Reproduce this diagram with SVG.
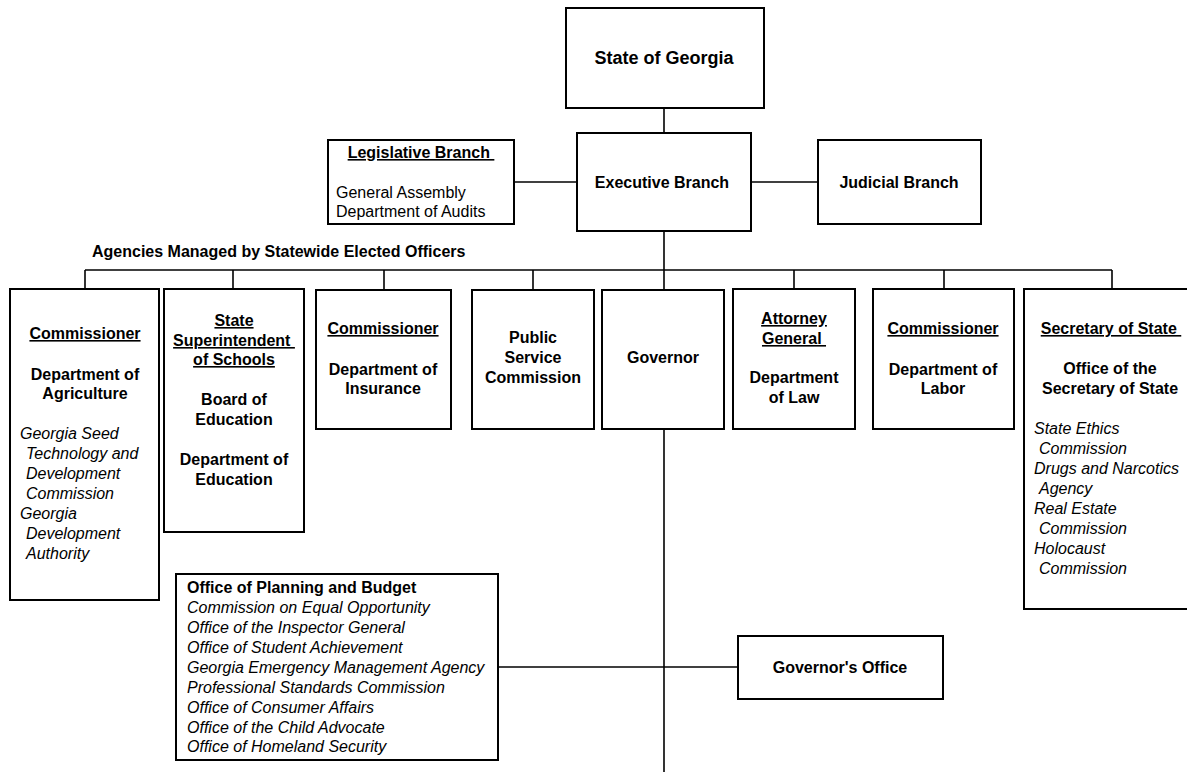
<svg xmlns="http://www.w3.org/2000/svg" width="1187" height="772" viewBox="0 0 1187 772">
<style>
.box{fill:#fff;stroke:#000;stroke-width:2}
.ln{stroke:#000;stroke-width:1.6;fill:none}
text{font-family:"Liberation Sans",Arial,sans-serif;fill:#000;font-size:16px}
.b{font-weight:bold}
.c{text-anchor:middle}
.u{text-decoration:underline;white-space:pre}
.i{font-style:italic}
</style>
<rect width="1187" height="772" fill="#fff"/>
<g id="connectors">
<line class="ln" x1="664" y1="108" x2="664" y2="133"/>
<line class="ln" x1="514" y1="182" x2="577" y2="182"/>
<line class="ln" x1="751" y1="182" x2="818" y2="182"/>
<line class="ln" x1="664" y1="231" x2="664" y2="290"/>
<line class="ln" x1="85" y1="270" x2="1112" y2="270"/>
<line class="ln" x1="85" y1="270" x2="85" y2="289"/>
<line class="ln" x1="233" y1="270" x2="233" y2="289"/>
<line class="ln" x1="384" y1="270" x2="384" y2="290"/>
<line class="ln" x1="533" y1="270" x2="533" y2="290"/>
<line class="ln" x1="794" y1="270" x2="794" y2="289"/>
<line class="ln" x1="944" y1="270" x2="944" y2="289"/>
<line class="ln" x1="1112" y1="270" x2="1112" y2="289"/>
<line class="ln" x1="664" y1="429" x2="664" y2="772"/>
<line class="ln" x1="498" y1="667" x2="738" y2="667"/>
</g>
<g id="state">
<rect class="box" x="566" y="8" width="198" height="100"/>
<text class="b c" x="664" y="64" style="font-size:18px">State of Georgia</text>
</g>
<g id="executive">
<rect class="box" x="577" y="133" width="174" height="98"/>
<text class="b c" x="662" y="188">Executive Branch</text>
</g>
<g id="legislative">
<rect class="box" x="328" y="140" width="186" height="84"/>
<text class="b c u" x="421" y="158">Legislative Branch </text>
<text x="336" y="198">General Assembly</text>
<text x="336" y="217">Department of Audits</text>
</g>
<g id="judicial">
<rect class="box" x="818" y="140" width="163" height="84"/>
<text class="b c" x="899" y="188">Judicial Branch</text>
</g>
<text id="agencies-label" class="b" x="92" y="257">Agencies Managed by Statewide Elected Officers</text>
<g id="agriculture">
<rect class="box" x="10" y="289" width="149" height="311"/>
<text class="b c u" x="85" y="339">Commissioner</text>
<text class="b c" x="85" y="380">Department of</text>
<text class="b c" x="85" y="399">Agriculture</text>
<text class="i" x="20" y="439">Georgia Seed</text>
<text class="i" x="26" y="459">Technology and</text>
<text class="i" x="26" y="479">Development</text>
<text class="i" x="26" y="499">Commission</text>
<text class="i" x="20" y="519">Georgia</text>
<text class="i" x="26" y="539">Development</text>
<text class="i" x="26" y="559">Authority</text>
</g>
<g id="superintendent">
<rect class="box" x="164" y="289" width="140" height="243"/>
<text class="b c u" x="234" y="326">State</text>
<text class="b c u" x="234" y="346">Superintendent </text>
<text class="b c u" x="234" y="365">of Schools</text>
<text class="b c" x="234" y="405">Board of</text>
<text class="b c" x="234" y="425">Education</text>
<text class="b c" x="234" y="465">Department of</text>
<text class="b c" x="234" y="485">Education</text>
</g>
<g id="insurance">
<rect class="box" x="316" y="290" width="135" height="139"/>
<text class="b c u" x="383" y="334">Commissioner</text>
<text class="b c" x="383" y="375">Department of</text>
<text class="b c" x="383" y="394">Insurance</text>
</g>
<g id="psc">
<rect class="box" x="472" y="290" width="122" height="139"/>
<text class="b c" x="533" y="343">Public</text>
<text class="b c" x="533" y="363">Service</text>
<text class="b c" x="533" y="383">Commission</text>
</g>
<g id="governor">
<rect class="box" x="602" y="290" width="122" height="139"/>
<text class="b c" x="663" y="363">Governor</text>
</g>
<g id="attorney">
<rect class="box" x="733" y="289" width="122" height="140"/>
<text class="b c u" x="794" y="324">Attorney</text>
<text class="b c u" x="794" y="344">General </text>
<text class="b c" x="794" y="383">Department</text>
<text class="b c" x="794" y="403">of Law</text>
</g>
<g id="labor">
<rect class="box" x="873" y="289" width="141" height="140"/>
<text class="b c u" x="943" y="334">Commissioner</text>
<text class="b c" x="943" y="375">Department of</text>
<text class="b c" x="943" y="394">Labor</text>
</g>
<g id="secretary">
<rect class="box" x="1024" y="289" width="176" height="320"/>
<text class="b c u" x="1111" y="334">Secretary of State </text>
<text class="b c" x="1110" y="374">Office of the</text>
<text class="b c" x="1110" y="394">Secretary of State</text>
<text class="i" x="1034" y="434">State Ethics</text>
<text class="i" x="1039" y="454">Commission</text>
<text class="i" x="1034" y="474">Drugs and Narcotics</text>
<text class="i" x="1039" y="494">Agency</text>
<text class="i" x="1034" y="514">Real Estate</text>
<text class="i" x="1039" y="534">Commission</text>
<text class="i" x="1034" y="554">Holocaust</text>
<text class="i" x="1039" y="574">Commission</text>
</g>
<g id="planning">
<rect class="box" x="176" y="574" width="322" height="186"/>
<text class="b" x="187" y="593">Office of Planning and Budget</text>
<text class="i" x="187" y="613">Commission on Equal Opportunity</text>
<text class="i" x="187" y="633">Office of the Inspector General</text>
<text class="i" x="187" y="653">Office of Student Achievement</text>
<text class="i" x="187" y="673">Georgia Emergency Management Agency</text>
<text class="i" x="187" y="693">Professional Standards Commission</text>
<text class="i" x="187" y="713">Office of Consumer Affairs</text>
<text class="i" x="187" y="733">Office of the Child Advocate</text>
<text class="i" x="187" y="752">Office of Homeland Security</text>
</g>
<g id="governors-office">
<rect class="box" x="738" y="636" width="205" height="63"/>
<text class="b c" x="840" y="673">Governor's Office</text>
</g>
</svg>
